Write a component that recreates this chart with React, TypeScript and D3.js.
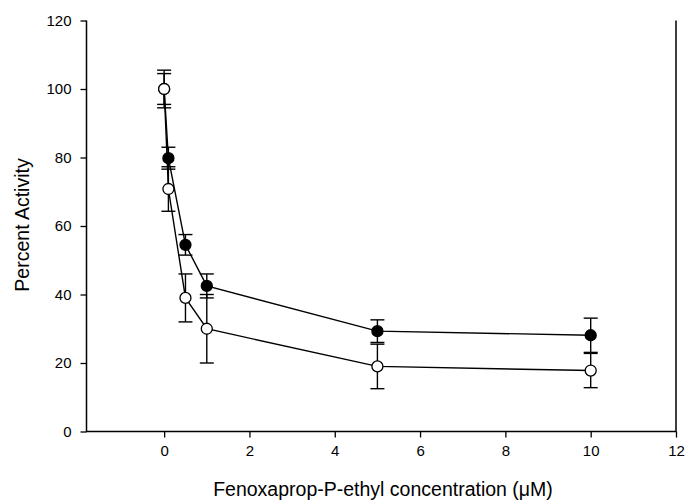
import React, { useRef, useEffect } from 'react';
import * as d3 from 'd3';

const conc = [0, 0.1, 0.5, 1, 5, 10];
const filledMean = [100, 79.8, 54.5, 42.5, 29.3, 28.1];
const filledErr = [4.5, 3.2, 3.0, 3.5, 3.3, 5.0];
const openMean = [100, 70.8, 39.0, 30.0, 19.0, 17.8];
const openErr = [5.5, 6.5, 7.0, 10.0, 6.5, 5.0];
const xTicks = [0, 2, 4, 6, 8, 10, 12];
const yTicks = [0, 20, 40, 60, 80, 100, 120];

const App = () => {
    const ref = useRef<HTMLDivElement>(null);

    useEffect(() => {
        const width = 699;
        const height = 501;
        const left = 86.5;
        const right = 676;
        const top = 20.5;
        const bottom = 431.5;
        const font = 'Arial, "Liberation Sans", sans-serif';

        const x = d3.scaleLinear([-1.82, 12], [left, right]);
        const y = d3.scaleLinear([0, 120], [bottom, top]);

        const svg = d3.create('svg')
            .attr('width', width)
            .attr('height', height)
            .attr('viewBox', [0, 0, width, height])
            .style('position', 'absolute')
            .style('left', 0)
            .style('top', 0)
            .style('background', '#fff');

        // left, bottom and right frame lines (no top line)
        svg.append('path')
            .attr('d', `M${left},${top}V${bottom}H${right}V${top}`)
            .attr('fill', 'none')
            .attr('stroke', '#000')
            .attr('stroke-width', 1.5);

        svg.append('g')
            .attr('transform', `translate(0,${bottom})`)
            .call(d3.axisBottom(x).tickValues(xTicks).tickSize(6).tickPadding(8))
            .call(g => g.select('.domain').remove())
            .call(g => g.selectAll('.tick line').attr('stroke-width', 1.3))
            .call(g => g.selectAll('text').attr('font-size', 15).attr('font-family', font).attr('fill', '#000'));

        svg.append('g')
            .attr('transform', `translate(${left},0)`)
            .call(d3.axisLeft(y).tickValues(yTicks).tickSize(6).tickPadding(9))
            .call(g => g.select('.domain').remove())
            .call(g => g.selectAll('.tick line').attr('stroke-width', 1.3))
            .call(g => g.selectAll('text').attr('font-size', 15).attr('font-family', font).attr('fill', '#000'));

        svg.append('text')
            .attr('transform', `translate(28.5,${(top + bottom) / 2 - 1}) rotate(-90)`)
            .attr('text-anchor', 'middle')
            .attr('font-family', font)
            .attr('font-size', 19.5)
            .text('Percent Activity');

        svg.append('text')
            .attr('x', 383)
            .attr('y', 496)
            .attr('text-anchor', 'middle')
            .attr('font-family', font)
            .attr('font-size', 19.5)
            .text('Fenoxaprop-P-ethyl concentration (\u03bcM)');

        const line = d3.line<number>()
            .x((_, i) => x(conc[i]))
            .y(d => y(d));

        const series = [
            { mean: filledMean, err: filledErr, fill: '#000' },
            { mean: openMean, err: openErr, fill: '#fff' },
        ];

        // error bars
        series.forEach(s => {
            const g = svg.append('g').attr('stroke', '#000').attr('stroke-width', 1.4);
            s.mean.forEach((m, i) => {
                const cx = x(conc[i]);
                const y1 = y(m + s.err[i]);
                const y0 = y(m - s.err[i]);
                g.append('line').attr('x1', cx).attr('x2', cx).attr('y1', y1).attr('y2', y0);
                g.append('line').attr('x1', cx - 7).attr('x2', cx + 7).attr('y1', y1).attr('y2', y1);
                g.append('line').attr('x1', cx - 7).attr('x2', cx + 7).attr('y1', y0).attr('y2', y0);
            });
        });

        series.forEach(s => {
            svg.append('path')
                .attr('d', line(s.mean))
                .attr('fill', 'none')
                .attr('stroke', '#000')
                .attr('stroke-width', 1.4);
        });

        series.forEach(s => {
            svg.append('g')
                .selectAll('circle')
                .data(s.mean)
                .join('circle')
                .attr('cx', (_, i) => x(conc[i]))
                .attr('cy', d => y(d))
                .attr('r', 5.5)
                .attr('fill', s.fill)
                .attr('stroke', '#000')
                .attr('stroke-width', 1.3);
        });

        ref.current?.appendChild(svg.node()!);
        return () => {
            if (ref.current) ref.current.innerHTML = '';
        };
    }, []);

    return <div ref={ref}></div>;
};

export default App;
